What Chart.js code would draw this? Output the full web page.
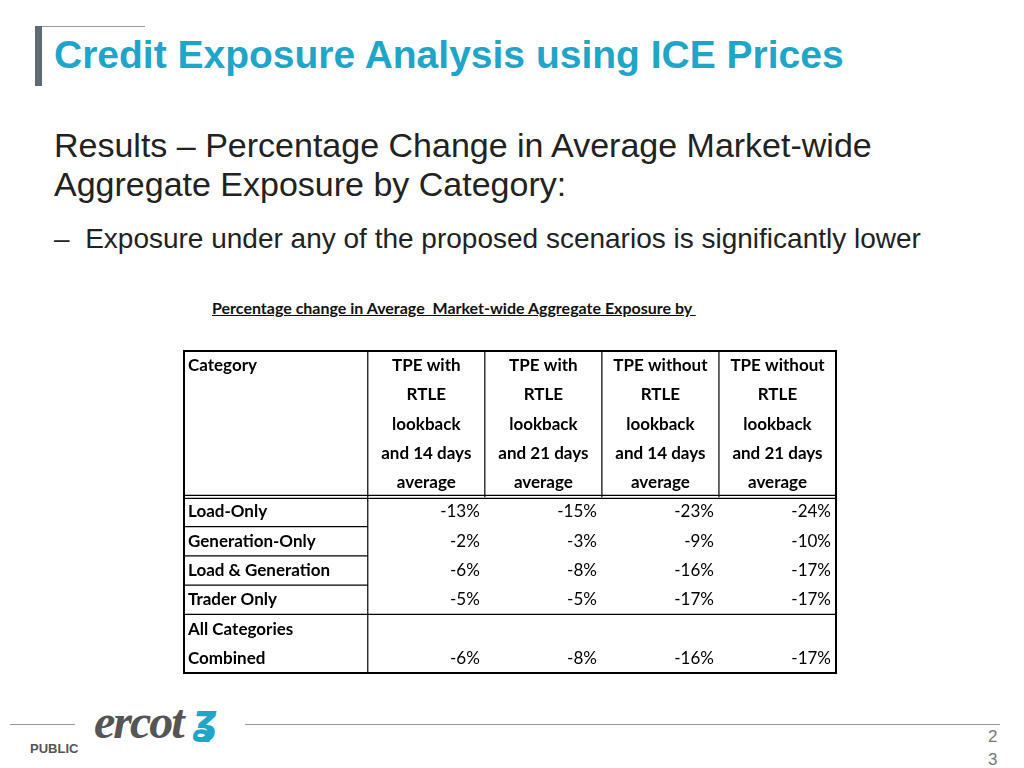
<!DOCTYPE html>
<html><head><meta charset="utf-8">
<script src="https://cdn.jsdelivr.net/npm/chart.js@4"></script>
<style>
body{margin:0;width:1024px;height:768px;background:#fff;font-family:"Liberation Sans",Arial,sans-serif;position:relative;overflow:hidden}
.abs{position:absolute;white-space:nowrap}
</style></head><body>
<div class="abs" style="left:35px;top:26px;width:110px;height:1px;background:#999"></div>
<div class="abs" style="left:35px;top:26px;width:7px;height:60px;background:#5f6a72"></div>
<div class="abs" style="left:54px;top:33px;font-size:39px;font-weight:bold;color:#1fa5c8">Credit Exposure Analysis using ICE Prices</div>
<div class="abs" style="left:54px;top:126px;font-size:34px;color:#222;line-height:39px">Results – Percentage Change in Average Market-wide<br>Aggregate Exposure by Category:</div>
<div class="abs" style="left:54px;top:223px;font-size:28px;color:#222">–&nbsp;&nbsp;Exposure under any of the proposed scenarios is significantly lower</div>
<div class="abs" style="left:212px;top:298px;font-size:16px;font-weight:bold;font-family:Lato;text-decoration:underline;color:#111">Percentage change in Average&nbsp; Market-wide Aggregate Exposure by&nbsp;</div>
<div class="abs" style="left:174px;top:341px;width:672px;height:342px"><canvas id="tbl"></canvas></div>
<div class="abs" style="left:10px;top:724px;width:65px;height:1px;background:#999"></div>
<div class="abs" style="left:245px;top:724px;width:755px;height:1px;background:#999"></div>
<div class="abs" style="left:94px;top:694px;font-size:48px;font-weight:bold;font-style:italic;color:#555;letter-spacing:-2px;font-family:'Liberation Sans Narrow'">ercot</div>
<div class="abs" style="left:192px;top:696px;font-size:40px;font-weight:bold;font-style:italic;color:#1fa5c8;font-family:'DejaVu Sans'">ʓ</div>
<div class="abs" style="left:30px;top:741px;font-size:13px;font-weight:bold;color:#555">PUBLIC</div>
<div class="abs" style="left:988px;top:725px;font-size:17px;color:#777;line-height:23px">2<br>3</div>
<script>
const headers = ['Category', 'TPE with\nRTLE\nlookback\nand 14 days\naverage', 'TPE with\nRTLE\nlookback\nand 21 days\naverage',
  'TPE without\nRTLE\nlookback\nand 14 days\naverage', 'TPE without\nRTLE\nlookback\nand 21 days\naverage'];
const categories = ['Load-Only', 'Generation-Only', 'Load & Generation', 'Trader Only', 'All Categories\nCombined'];
const tpeRtle14 = [-13, -2, -6, -5, -6];
const tpeRtle21 = [-15, -3, -8, -5, -8];
const tpeNo14 = [-23, -9, -16, -17, -16];
const tpeNo21 = [-24, -10, -17, -17, -17];
const series = [tpeRtle14, tpeRtle21, tpeNo14, tpeNo21];

const colEdges = [0, 1.57, 2.57, 3.57, 4.57, 5.57];
const rowEdges = [0, 5, 6, 7, 8, 9, 11];

const tablePlugin = {
  id: 'table',
  afterDraw(chart) {
    const c = chart.ctx, X = chart.scales.x, Y = chart.scales.y;
    const px = v => X.getPixelForValue(v), py = v => Y.getPixelForValue(v);
    const x0 = px(0), x1 = px(5.57), xc = px(colEdges[1]);
    c.save();
    c.strokeStyle = '#000';
    c.lineWidth = 2;
    c.strokeRect(x0, py(0), x1 - x0, py(11) - py(0));
    c.lineWidth = 1.2;
    for (let i = 1; i < 5; i++) { c.beginPath(); c.moveTo(px(colEdges[i]), py(0)); c.lineTo(px(colEdges[i]), py(5)); c.stroke(); }
    c.beginPath(); c.moveTo(x0, py(5) - 2); c.lineTo(x1, py(5) - 2); c.stroke();
    c.beginPath(); c.moveTo(x0, py(5) + 1); c.lineTo(x1, py(5) + 1); c.stroke();
    c.beginPath(); c.moveTo(xc, py(5)); c.lineTo(xc, py(11)); c.stroke();
    for (let r = 2; r <= 4; r++) { c.beginPath(); c.moveTo(x0, py(rowEdges[r])); c.lineTo(xc, py(rowEdges[r])); c.stroke(); }
    c.beginPath(); c.moveTo(x0, py(9)); c.lineTo(x1, py(9)); c.stroke();
    c.fillStyle = '#000';
    c.textBaseline = 'middle';
    c.font = 'bold 17px Lato';
    headers.forEach((h, i) => {
      h.split('\n').forEach((ln, k) => {
        const y = py(k + 0.5);
        if (i === 0) { c.textAlign = 'left'; c.fillText(ln, x0 + 4, y); }
        else { c.textAlign = 'center'; c.fillText(ln, (px(colEdges[i]) + px(colEdges[i + 1])) / 2, y); }
      });
    });
    categories.forEach((cat, r) => {
      const top = rowEdges[r + 1], bot = rowEdges[r + 2];
      c.font = 'bold 17px Lato'; c.textAlign = 'left';
      cat.split('\n').forEach((ln, k) => c.fillText(ln, x0 + 4, py(top + k + 0.5)));
      c.font = '17px Lato'; c.textAlign = 'right';
      series.forEach((s, j) => c.fillText(s[r] + '%', px(colEdges[j + 2]) - 5, py(bot - 0.5)));
    });
    c.restore();
  }
};

new Chart(document.getElementById('tbl'), {
  type: 'scatter',
  data: { datasets: [{ data: [] }] },
  options: {
    responsive: true, maintainAspectRatio: false, animation: false,
    layout: { padding: 10 },
    plugins: { legend: { display: false }, tooltip: { enabled: false } },
    scales: {
      x: { type: 'linear', min: 0, max: 5.57, display: false },
      y: { type: 'linear', min: 0, max: 11, reverse: true, display: false }
    }
  },
  plugins: [tablePlugin]
});
</script>
</body></html>
